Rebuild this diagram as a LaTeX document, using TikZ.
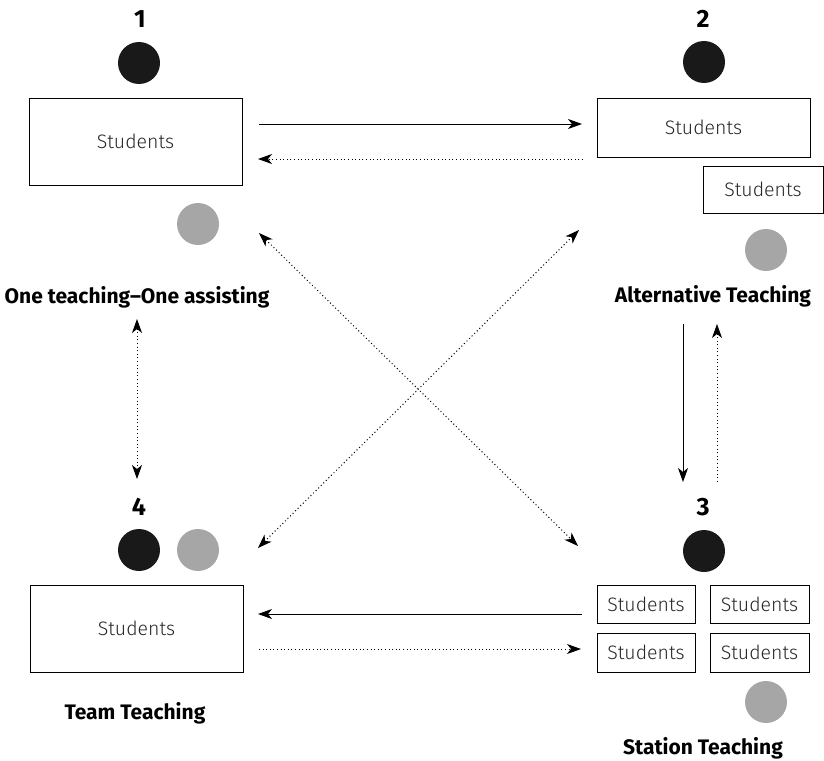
\documentclass[tikz,border=0pt]{standalone}
\usepackage{fontspec}
\setmainfont{Fira Sans}[UprightFont=* Light, BoldFont=* Bold]
\usetikzlibrary{arrows.meta}
\begin{document}
\begin{tikzpicture}[x=1pt,y=-1pt,
  box/.style={draw, line width=1pt, minimum width=#1, inner sep=0pt, font=\fontsize{19.5}{21}\selectfont\color{black!85}},
  box/.default=213pt,
  black dot/.style={circle, fill=black!90, minimum size=42pt, inner sep=0pt},
  gray dot/.style={circle, fill=black!35, minimum size=42pt, inner sep=0pt},
  num/.style={font=\bfseries\fontsize{25}{27}\selectfont},
  lbl/.style={font=\bfseries\fontsize{21}{23}\selectfont},
  tip/.style={},
  solidarr/.style={-{Stealth[length=14pt,width=10pt,inset=4pt]}, line width=0.9pt},
  dotarr/.style={-{Stealth[length=14pt,width=10pt,inset=4pt]}, line width=1pt, dash pattern=on 1pt off 2.6pt},
  dotdbl/.style={{Stealth[length=14pt,width=10pt,inset=4pt]}-{Stealth[length=14pt,width=10pt,inset=4pt]}, line width=1pt, dash pattern=on 1pt off 2.6pt}
]
\useasboundingbox (0,0) rectangle (824,760);
% group 1
\node[num] (n1) at (140,19) {1};
\node[black dot] (b1) at (139,63) {};
\node[box, minimum height=87pt] (s1) at (135.5,141.5) {Students};
\node[gray dot] (g1) at (198,224) {};
\node[lbl] (l1) at (137,297) {One teaching–One assisting};
% group 2
\node[num] (n2) at (703,19) {2};
\node[black dot] (b2) at (704,62) {};
\node[box, minimum height=59pt] (s2) at (703.5,127.5) {Students};
\node[box=120pt, minimum height=47pt] (s2b) at (763,189.5) {Students};
\node[gray dot] (g2) at (766,250) {};
\node[lbl] (l2) at (713,296) {Alternative Teaching};
% group 3
\node[num] (n3) at (703,507) {3};
\node[black dot] (b3) at (704,551) {};
\node[box=98pt, minimum height=38pt] (s3a) at (646,604) {Students};
\node[box=99pt, minimum height=38pt] (s3b) at (759.5,604) {Students};
\node[box=98pt, minimum height=39pt] (s3c) at (646,652.5) {Students};
\node[box=99pt, minimum height=39pt] (s3d) at (759.5,652.5) {Students};
\node[gray dot] (g3) at (766,702) {};
\node[lbl] (l3) at (703,748) {Station Teaching};
% group 4
\node[num] (n4) at (139,507) {4};
\node[black dot] (b4) at (139,550) {};
\node[gray dot] (g4) at (198,550) {};
\node[box, minimum height=87pt] (s4) at (136.5,628.5) {Students};
\node[lbl] (l4) at (135,713) {Team Teaching};
% arrow end points
\coordinate (a12s) at (259,124); \coordinate (a12e) at (582,124);
\coordinate (a21s) at (583,159); \coordinate (a21e) at (258,159);
\coordinate (d13a) at (259,233); \coordinate (d13b) at (578,546);
\coordinate (d24a) at (579,230); \coordinate (d24b) at (258,548);
\coordinate (v14a) at (137,319); \coordinate (v14b) at (137,479);
\coordinate (a23s) at (683,324); \coordinate (a23e) at (683,482);
\coordinate (a32s) at (717,482); \coordinate (a32e) at (717,324);
\coordinate (a34s) at (582,614); \coordinate (a34e) at (258,614);
\coordinate (a43s) at (259,649); \coordinate (a43e) at (581,649);
\draw[solidarr] (a12s) -- (a12e);
\draw[dotarr] (a21s) -- (a21e);
\draw[dotdbl] (d13a) -- (d13b);
\draw[dotdbl] (d24a) -- (d24b);
\draw[dotdbl] (v14a) -- (v14b);
\draw[solidarr] (a23s) -- (a23e);
\draw[dotarr] (a32s) -- (a32e);
\draw[solidarr] (a34s) -- (a34e);
\draw[dotarr] (a43s) -- (a43e);
\end{tikzpicture}
\end{document}
